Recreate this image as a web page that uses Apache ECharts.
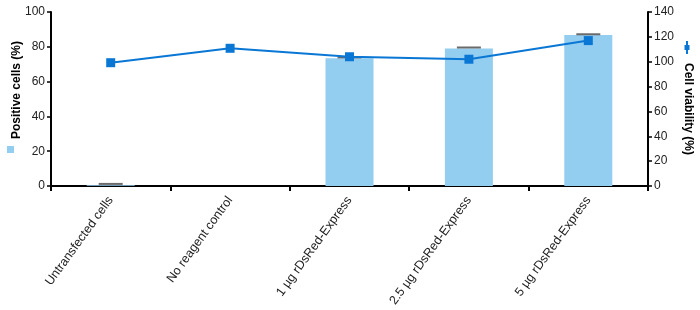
<!DOCTYPE html>
<html>
<head>
<meta charset="utf-8">
<script src="https://cdn.jsdelivr.net/npm/echarts@6/dist/echarts.min.js"></script>
<style>html,body{margin:0;padding:0;background:#fff}#c{width:700px;height:310px}</style>
</head>
<body>
<div id="c"></div>
<script>
var categories = ['Untransfected cells', 'No reagent control', '1 \u00b5g rDsRed-Express', '2.5 \u00b5g rDsRed-Express', '5 \u00b5g rDsRed-Express'];
var positiveCells = [0.4, 0, 73.4, 79.0, 86.8];
var positiveErrTop = [1.2, null, 73.9, 79.6, 87.2];
var cellViability = [99.2, 110.8, 104, 102, 117];
var leftTicks = [0, 20, 40, 60, 80, 100];
var rightTicks = [0, 20, 40, 60, 80, 100, 120, 140];

var chart = echarts.init(document.getElementById('c'), null, {renderer: 'canvas'});
var font = 'Liberation Sans, Arial, sans-serif';
var lineColor = '#0a77d5';
var barColor = '#93cdf0';

chart.setOption({
  animation: false,
  grid: {left: 51, right: 52, top: 12, bottom: 124},
  xAxis: {
    type: 'category',
    data: categories,
    axisLine: {lineStyle: {color: '#000', width: 2}},
    axisTick: {show: true, length: 5, lineStyle: {color: '#000', width: 2}},
    axisLabel: {rotate: 54, fontSize: 12.5, color: '#222', fontFamily: font, margin: 12}
  },
  yAxis: [{
    type: 'value', min: leftTicks[0], max: leftTicks[leftTicks.length - 1], interval: 20,
    axisLine: {show: true, lineStyle: {color: '#000', width: 2}},
    axisTick: {show: true, length: 4, lineStyle: {color: '#000', width: 1.5}},
    axisLabel: {fontSize: 12, color: '#222', fontFamily: font, margin: 6},
    splitLine: {show: false}
  }, {
    type: 'value', min: rightTicks[0], max: rightTicks[rightTicks.length - 1], interval: 20,
    position: 'right',
    axisLine: {show: true, lineStyle: {color: '#000', width: 2}},
    axisTick: {show: true, length: 4, lineStyle: {color: '#000', width: 1.5}},
    axisLabel: {fontSize: 12, color: '#222', fontFamily: font, margin: 6},
    splitLine: {show: false}
  }],
  series: [{
    type: 'bar',
    data: positiveCells,
    barWidth: 48,
    itemStyle: {color: barColor},
    z: 2
  }, {
    type: 'custom',
    data: positiveErrTop.map(function (v, i) { return [i, v]; }),
    renderItem: function (params, api) {
      var v = api.value(1);
      if (v == null || isNaN(v)) return null;
      var p = api.coord([api.value(0), v]);
      return {
        type: 'line',
        shape: {x1: p[0] - 12, y1: p[1], x2: p[0] + 12, y2: p[1]},
        style: {stroke: '#6b6b6b', lineWidth: 2}
      };
    },
    z: 3
  }, {
    type: 'line',
    yAxisIndex: 1,
    data: cellViability,
    symbol: 'rect',
    symbolSize: 9,
    lineStyle: {color: lineColor, width: 2},
    itemStyle: {color: lineColor},
    z: 5
  }],
  graphic: [{
    type: 'text', x: 17, y: 90, rotation: Math.PI / 2,
    style: {text: 'Positive cells (%)', font: 'bold 12px ' + font, fill: '#000', textAlign: 'center', textVerticalAlign: 'middle'}
  }, {
    type: 'rect', shape: {x: 7, y: 146, width: 7, height: 7}, style: {fill: barColor}
  }, {
    type: 'text', x: 688, y: 109, rotation: -Math.PI / 2,
    style: {text: 'Cell viability (%)', font: 'bold 12px ' + font, fill: '#000', textAlign: 'center', textVerticalAlign: 'middle'}
  }, {
    type: 'line', shape: {x1: 687, y1: 41, x2: 687, y2: 54}, style: {stroke: lineColor, lineWidth: 2}
  }, {
    type: 'rect', shape: {x: 684.5, y: 45, width: 5, height: 5}, style: {fill: lineColor}
  }]
});
</script>
</body>
</html>
